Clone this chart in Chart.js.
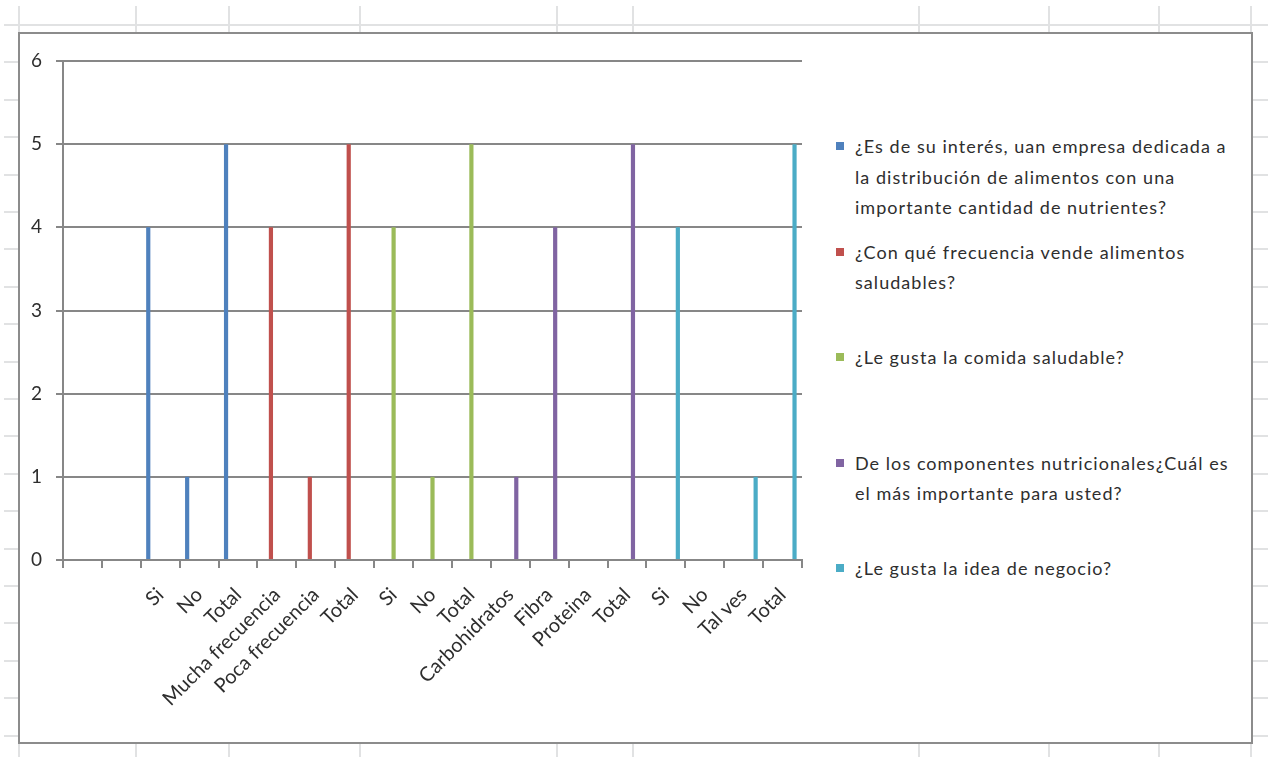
<!DOCTYPE html>
<html lang="es">
<head>
<meta charset="UTF-8">
<title>Encuesta - gráfico</title>
<script src="https://cdn.jsdelivr.net/npm/chart.js"></script>
<style>
  body { margin: 0; width: 1268px; height: 757px; overflow: hidden; background: #fff; position: relative; font-family: Lato, "Open Sans", sans-serif; }
  .hoja-h { position: absolute; height: 2px; background: #e1e2e3; }
  .hoja-v { position: absolute; width: 2px; background: #e1e2e3; }
  #marco { position: absolute; left: 18px; top: 32px; width: 1231px; height: 708px; border: 2px solid #8c8c8c; background: #fff; }
  #grafico { position: absolute; left: 0; top: 0; }
  #leyenda { position: absolute; left: 816px; top: 97px; width: 414px; }
  .item { height: 105.5px; position: relative; padding-left: 19px; font-size: 18px; letter-spacing: 1.05px; line-height: 30.5px; color: #2e2e2e; white-space: nowrap; }
  .item i { position: absolute; left: 0; top: 11px; width: 8px; height: 8px; }
</style>
</head>
<body>
  <div id="hoja"></div>
  <div id="marco">
    <canvas id="grafico" width="800" height="708"></canvas>
    <div id="leyenda"></div>
  </div>

<script>
  // datos
  const categorias = ['', '', 'Si', 'No', 'Total', 'Mucha frecuencia', 'Poca frecuencia', 'Total',
    'Si', 'No', 'Total', 'Carbohidratos', 'Fibra', 'Proteina', 'Total', 'Si', 'No', 'Tal ves', 'Total'];

  const interes     = [null, null, 4, 1, 5, null, null, null, null, null, null, null, null, null, null, null, null, null, null];
  const frecuencia  = [null, null, null, null, null, 4, 1, 5, null, null, null, null, null, null, null, null, null, null, null];
  const comida      = [null, null, null, null, null, null, null, null, 4, 1, 5, null, null, null, null, null, null, null, null];
  const componentes = [null, null, null, null, null, null, null, null, null, null, null, 1, 4, 0, 5, null, null, null, null];
  const negocio     = [null, null, null, null, null, null, null, null, null, null, null, null, null, null, null, 4, 0, 1, 5];

  const preguntas = [
    ['¿Es de su interés, uan empresa dedicada a', 'la distribución de alimentos con una', 'importante cantidad de nutrientes?'],
    ['¿Con qué frecuencia vende alimentos', 'saludables?'],
    ['¿Le gusta la comida saludable?'],
    ['De los componentes nutricionales¿Cuál es', 'el más importante para usted?'],
    ['¿Le gusta la idea de negocio?']
  ];

  const colores = ['#4f81bd', '#c0504d', '#9bbb59', '#8064a2', '#4bacc6'];

  // cuadrícula de la hoja de cálculo detrás del gráfico
  const columnasHoja = [19, 136, 229, 360, 557, 633, 919, 1049, 1159, 1251];
  const hoja = document.getElementById('hoja');
  for (let k = 0; k < 20; k++) {
    const d = document.createElement('div');
    d.className = 'hoja-h';
    d.style.cssText = `left:4px;width:1264px;top:${24 + k * 37.4}px`;
    hoja.appendChild(d);
  }
  columnasHoja.forEach(x => {
    const d = document.createElement('div');
    d.className = 'hoja-v';
    d.style.cssText = `left:${x - 1}px;top:6px;height:751px`;
    hoja.appendChild(d);
  });

  const series = [interes, frecuencia, comida, componentes, negocio];
  const gris = '#878787';
  const familia = 'Lato, "Open Sans", sans-serif';

  new Chart(document.getElementById('grafico'), {
    type: 'bar',
    data: {
      labels: categorias,
      datasets: series.map((valores, i) => ({
        label: preguntas[i].join(' '),
        data: valores,
        backgroundColor: colores[i],
        borderWidth: 0,
        categoryPercentage: 0.77,
        barPercentage: 0.7
      }))
    },
    options: {
      responsive: false,
      animation: false,
      layout: { padding: { top: 27, right: 18, left: 0, bottom: 0 } },
      plugins: {
        legend: { display: false },
        tooltip: { enabled: false }
      },
      scales: {
        x: {
          afterFit: s => { s.height = 182; },
          grid: { drawOnChartArea: false, drawTicks: true, tickLength: 8, color: gris, lineWidth: 2, offset: true },
          border: { color: gris, width: 2 },
          ticks: { autoSkip: false, minRotation: 45, maxRotation: 45, padding: 15, color: '#2e2e2e', font: { family: familia, size: 20 } }
        },
        y: {
          min: 0,
          max: 6,
          afterFit: s => { s.width = 43; },
          grid: { color: gris, lineWidth: 2, tickLength: 7 },
          border: { color: gris, width: 2 },
          ticks: { stepSize: 1, padding: 14, color: '#2e2e2e', font: { family: familia, size: 19 } }
        }
      }
    }
  });

  // leyenda con texto en varias líneas, como en la hoja original
  const leyenda = document.getElementById('leyenda');
  preguntas.forEach((lineas, i) => {
    const item = document.createElement('div');
    item.className = 'item';
    item.innerHTML = `<i style="background:${colores[i]}"></i>` + lineas.join('<br>');
    leyenda.appendChild(item);
  });
</script>
</body>
</html>
